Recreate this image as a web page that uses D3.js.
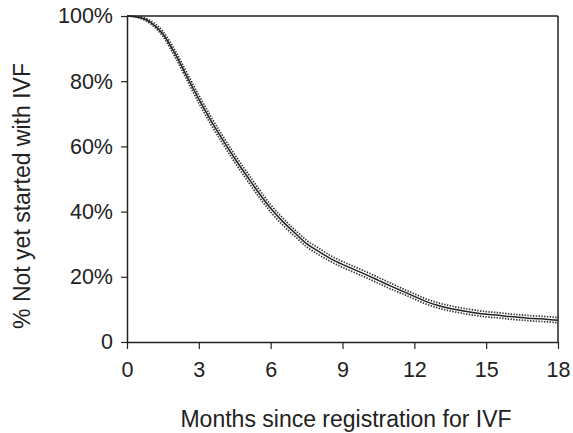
<!DOCTYPE html>
<html><head><meta charset="utf-8">
<script src="https://cdn.jsdelivr.net/npm/d3@7"></script>
<style>body{margin:0;background:#fff}svg{display:block}text{font-family:"Liberation Sans",Arial,sans-serif;fill:#222}</style>
</head><body><svg id="c" width="573" height="433"></svg>
<script>
const months = [0,0.5,1,1.5,2,2.5,3,3.5,4,4.5,5,5.5,6,6.5,7,7.5,8,8.5,9,9.5,10,10.5,11,11.5,12,12.5,13,13.5,14,14.5,15,15.5,16,16.5,17,17.5,18];
const estimate = [100,99.6,98,94.5,88.5,81.5,74.5,68,62,56.3,51,45.8,41,37,33.5,30.2,27.8,25.6,23.8,22.2,20.6,18.9,17.2,15.6,14,12.4,11.2,10.3,9.6,9.0,8.5,8.2,7.8,7.5,7.2,7.0,6.7];
const halfWidth = [0,0.2,0.5,0.8,1,1.1,1.2,1.2,1.2,1.2,1.2,1.2,1.1,1.1,1.0,1.0,1.0,0.9,0.9,0.9,0.9,0.9,0.9,0.8,0.8,0.8,0.8,0.8,0.8,0.8,0.8,0.8,0.8,0.8,0.8,0.8,0.8];
const xTicks = [0,3,6,9,12,15,18];
const yTicks = [0,20,40,60,80,100];
const xTitle = "Months since registration for IVF";
const yTitle = "% Not yet started with IVF";

const svg = d3.select("#c");
const L=127,R=558,T=16,B=342;
const FS=21.5, TFS=23;
const x = d3.scaleLinear().domain([0,18]).range([L,R]);
const y = d3.scaleLinear().domain([0,100]).range([B,T]);

const g = svg.append("g");
g.append("line").attr("x1",L).attr("x2",R).attr("y1",T).attr("y2",T).attr("stroke","#222").attr("stroke-width",1.5);
g.append("line").attr("x1",R).attr("x2",R).attr("y1",T).attr("y2",B).attr("stroke","#222").attr("stroke-width",1.5);

const xa = g.append("g").attr("transform",`translate(0,${B})`)
  .call(d3.axisBottom(x).tickValues(xTicks).tickSize(7).tickSizeOuter(0).tickPadding(13));
const ya = g.append("g").attr("transform",`translate(${L},0)`)
  .call(d3.axisLeft(y).tickValues(yTicks).tickSize(6).tickSizeOuter(0).tickPadding(8)
  .tickFormat(d=>d===0?"0":d+"%"));
[xa,ya].forEach(a=>{a.select(".domain").attr("stroke","#222").attr("stroke-width",1.5);
  a.selectAll(".tick line").attr("stroke","#222").attr("stroke-width",1.2);
  a.selectAll("text").attr("font-size",FS).attr("fill","#222").attr("font-family","Liberation Sans, Arial, sans-serif");});

const pts = months.map((m,i)=>({m,e:estimate[i],h:halfWidth[i]}));
const line = acc => d3.line().x(d=>x(d.m)).y(d=>y(acc(d))).curve(d3.curveMonotoneX);
g.append("path").datum(pts).attr("d",line(d=>d.e+d.h)).attr("fill","none").attr("stroke","#333").attr("stroke-width",1.7).attr("stroke-dasharray","1.4,1.4");
g.append("path").datum(pts).attr("d",line(d=>Math.max(0,d.e-d.h))).attr("fill","none").attr("stroke","#333").attr("stroke-width",1.7).attr("stroke-dasharray","1.4,1.4");
g.append("path").datum(pts).attr("d",line(d=>d.e)).attr("fill","none").attr("stroke","#222").attr("stroke-width",1.5);

svg.append("text").attr("x",346).attr("y",427).attr("text-anchor","middle").attr("font-size",TFS).text(xTitle);
svg.append("text").attr("transform",`translate(30,196) rotate(-90)`).attr("text-anchor","middle").attr("font-size",TFS).text(yTitle);
</script></body></html>
